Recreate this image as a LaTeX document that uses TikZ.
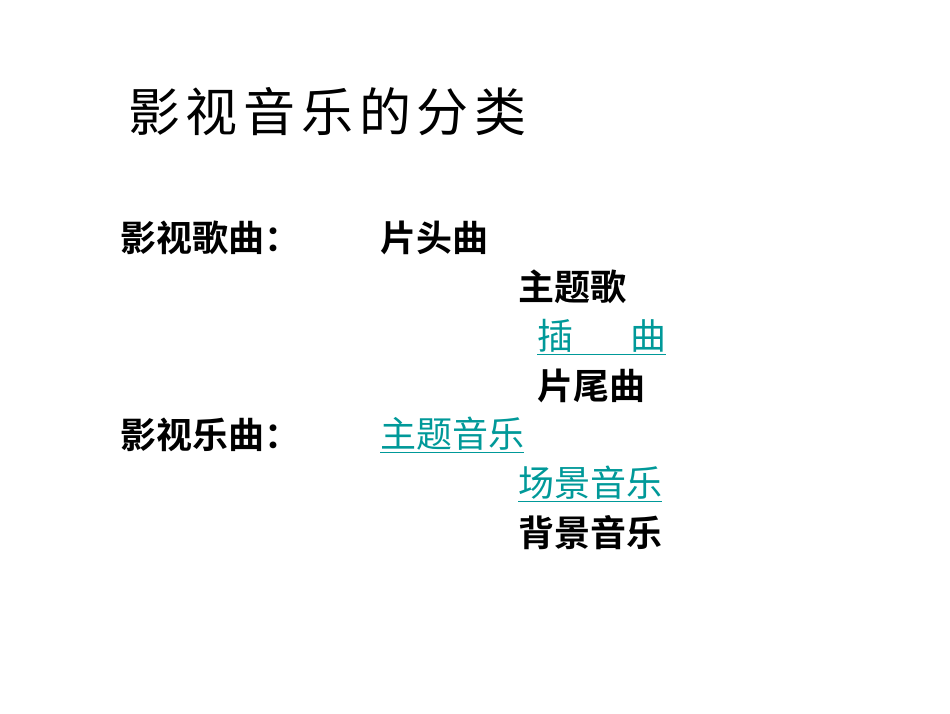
\documentclass[tikz,border=0pt]{standalone}
\usepackage{fontspec}
\newfontfamily\cjk{Noto Sans CJK SC}
\newfontfamily\cjkb{Noto Sans CJK SC Bold}
\newfontfamily\cjkt[LetterSpace=11]{Noto Sans CJK SC}
\definecolor{linkc}{HTML}{009999}
\begin{document}
\begin{tikzpicture}[x=1pt,y=-1pt,
  ttl/.style={anchor=west,inner sep=0pt,font=\cjkt\fontsize{52}{52}\selectfont},
  itm/.style={anchor=west,inner sep=0pt,font=\cjkb\fontsize{36}{36}\selectfont},
  lnk/.style={anchor=west,inner sep=0pt,text=linkc,font=\cjk\fontsize{36}{36}\selectfont}]
\useasboundingbox (0,0) rectangle (950,713);
\fill[white] (0,0) rectangle (950,713);
\node[ttl] (title) at (128,112) {影视音乐的分类};
\node[itm] (songs) at (120,238) {影视歌曲：};
\node[itm] (s1) at (380,238) {片头曲};
\node[itm] (s2) at (518,287) {主题歌};
\node[lnk] (s3) at (537,337) {\underline{插\hspace{57pt}曲}};
\node[itm] (s4) at (537,386) {片尾曲};
\node[itm] (music) at (120,435) {影视乐曲：};
\node[lnk] (m1) at (380,435) {\underline{主题音乐}};
\node[lnk] (m2) at (518,484) {\underline{场景音乐}};
\node[itm] (m3) at (518,533) {背景音乐};
\end{tikzpicture}
\end{document}
